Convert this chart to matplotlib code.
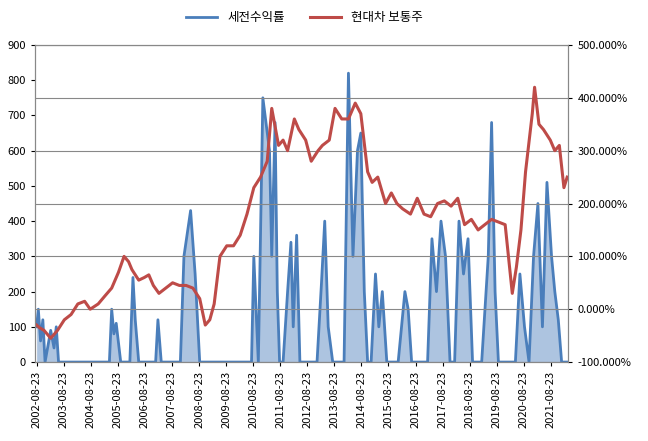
import matplotlib
matplotlib.use("Agg")
import matplotlib.pyplot as plt
import pandas as pd

plt.rcParams["font.family"] = ["Noto Sans CJK JP", "DejaVu Sans"]

red_dates = ["2002-08-23","2002-10-01","2002-12-01","2003-03-01","2003-06-01","2003-09-01","2003-12-01",
 "2004-03-01","2004-06-01","2004-08-15","2004-12-01","2005-03-01","2005-06-01","2005-09-01","2005-11-15",
 "2006-01-15","2006-03-01","2006-06-01","2006-08-15","2006-10-15","2006-12-15","2007-03-01","2007-06-01",
 "2007-09-01","2007-12-01","2008-03-01","2008-06-01","2008-09-01","2008-11-15","2009-01-15","2009-03-15",
 "2009-06-01","2009-09-01","2009-12-01","2010-03-01","2010-06-01","2010-09-01","2010-12-01","2011-03-01",
 "2011-05-01","2011-08-01","2011-10-01","2011-12-01","2012-03-01","2012-05-01","2012-08-01","2012-10-15",
 "2013-01-15","2013-03-15","2013-06-15","2013-09-01","2013-12-01","2014-03-01","2014-06-01","2014-08-15",
 "2014-11-15","2015-01-15","2015-04-01","2015-07-15","2015-10-01","2015-12-15","2016-03-01","2016-06-15",
 "2016-09-15","2016-12-15","2017-03-15","2017-06-15","2017-09-15","2017-12-15","2018-03-15","2018-06-15",
 "2018-09-15","2018-12-15","2019-03-15","2019-06-15","2019-09-15","2019-12-15","2020-03-20","2020-05-15",
 "2020-07-15","2020-09-15","2020-12-15","2021-01-15","2021-03-15","2021-05-15","2021-08-15","2021-10-15",
 "2021-12-15","2022-02-15","2022-03-31"]
red_vals = [-30,-35,-40,-55,-40,-20,-10,
 10,15,0,10,25,40,70,100,
 90,75,55,60,65,45,30,40,
 50,45,45,40,20,-30,-20,10,
 100,120,120,140,180,230,250,280,
 380,310,320,300,360,340,320,280,
 300,310,320,380,360,360,390,370,
 260,240,250,200,220,200,190,180,
 210,180,175,200,205,195,210,160,
 170,150,160,170,165,160,30,80,
 150,260,370,420,350,340,320,300,
 310,230,250]

blue_dates = ["2002-08-23","2002-09-15","2002-10-15","2002-11-15","2002-12-15","2003-03-01","2003-04-15","2003-05-15",
 "2003-06-15","2005-05-01","2005-06-01","2005-07-01","2005-08-01","2005-10-01","2006-02-01","2006-03-15",
 "2006-04-15","2006-06-01","2006-10-01","2007-01-15","2007-02-15","2007-04-01","2007-12-15","2008-02-01",
 "2008-05-01","2008-07-01","2008-09-01","2008-11-01","2010-08-01","2010-09-01","2010-10-01","2010-11-01",
 "2011-01-01","2011-04-01","2011-05-01","2011-06-15","2011-07-15","2011-08-15","2011-10-01","2011-12-01",
 "2012-01-15","2012-02-15","2012-04-01","2012-05-15","2012-07-01","2012-09-01","2013-01-01","2013-03-01",
 "2013-04-15","2013-06-01","2013-08-01","2013-10-01","2014-01-01","2014-03-01","2014-05-01","2014-07-01",
 "2014-08-15","2014-10-01","2014-11-15","2015-01-01","2015-03-01","2015-04-15","2015-06-01","2015-08-01",
 "2015-10-01","2016-01-01","2016-04-01","2016-05-15","2016-07-01","2016-09-01","2016-11-01","2017-02-01",
 "2017-04-01","2017-06-01","2017-08-01","2017-10-01","2017-12-01","2018-02-01","2018-04-01","2018-06-01",
 "2018-08-01","2018-10-01","2019-02-01","2019-05-01","2019-06-15","2019-08-01","2019-09-15","2019-11-01",
 "2020-05-01","2020-07-01","2020-09-01","2020-11-01","2021-01-01","2021-03-01","2021-05-01","2021-07-01",
 "2021-09-01","2021-10-15","2021-12-01","2022-01-15","2022-03-31"]
blue_vals = [100,150,60,120,0,90,40,100,
 0,0,150,80,110,0,0,240,
 120,0,0,0,120,0,0,300,
 430,250,0,0,0,300,150,0,
 750,600,300,680,200,0,0,200,
 340,100,360,0,0,0,0,220,
 400,100,0,0,0,820,300,600,
 650,200,0,0,250,100,200,0,
 0,0,200,150,0,0,0,0,
 350,200,400,300,0,0,400,250,
 350,0,0,300,680,200,0,0,
 0,250,100,0,300,450,100,510,
 300,200,120,0,0]

years = list(range(2002, 2022))
tick_labels = [f"{y}-08-23" for y in years]

rd = pd.to_datetime(red_dates)
bd = pd.to_datetime(blue_dates)
blue = "#4a7ebb"
red = "#be4b48"

fig = plt.figure(figsize=(6.48, 4.41), dpi=100)
ax = fig.add_axes([0.054, 0.179, 0.823, 0.719])
ax2 = ax.twinx()
ax.fill_between(bd, 0, blue_vals, color=blue, alpha=0.45, lw=0)
ax.plot(bd, blue_vals, color=blue, lw=2.0, label="세전수익률")
ax2.plot(rd, red_vals, color=red, lw=2.2, label="현대차 보통주")
ax.set_ylim(0, 900)
ax.set_yticks(range(0, 901, 100))
ax2.set_ylim(-100, 500)
ax2.set_yticks(range(-100, 501, 100))
ax2.set_yticklabels([f"{v:.3f}%" for v in range(-100, 501, 100)])
ax.grid(False)
for v in range(-100, 501, 100):
    ax2.axhline(v, color="#888888", lw=0.8, zorder=0)
ax.set_xlim(pd.Timestamp("2002-08-01"), pd.Timestamp("2022-04-15"))
ax.set_xticks(pd.to_datetime(tick_labels))
ax.set_xticklabels(tick_labels, rotation=90)
for a in (ax, ax2):
    a.tick_params(labelsize=8, length=3)
    for s in a.spines.values():
        s.set_color("#888888")
h1, l1 = ax.get_legend_handles_labels()
h2, l2 = ax2.get_legend_handles_labels()
fig.legend(h1 + h2, l1 + l2, loc="upper center", bbox_to_anchor=(0.47, 1.0), ncol=2,
           frameon=False, fontsize=9, handlelength=2.5)
fig.savefig("out.png", dpi=100)
